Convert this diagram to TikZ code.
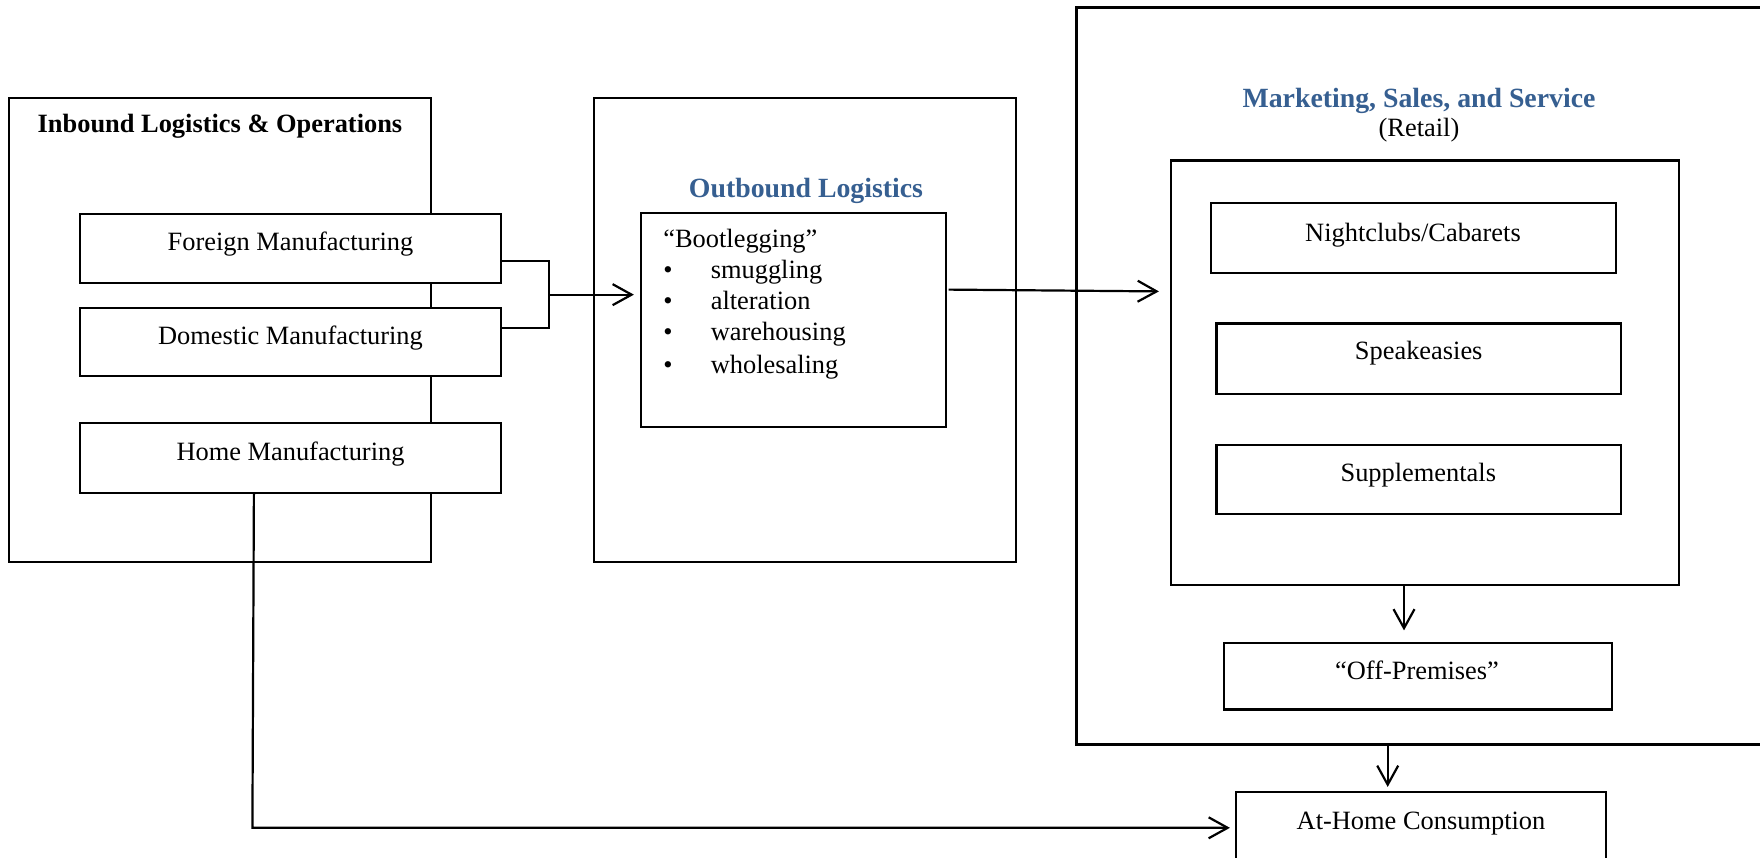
\documentclass[tikz,border=0pt]{standalone}
\usepackage{fontspec}
\setmainfont{Liberation Serif}
\usetikzlibrary{arrows.meta,calc,fit}
\definecolor{headblue}{HTML}{365F91}
\begin{document}
\begin{tikzpicture}[x=0.5pt,y=-0.5pt,
  box/.style={draw,line width=1.1pt,fill=white,inner sep=0pt},
  body/.style={font=\fontsize{13.2pt}{15.8pt}\selectfont,inner sep=0pt,anchor=base},
  bodyl/.style={body,anchor=base west},
  headb/.style={font=\fontsize{13.2pt}{15.8pt}\selectfont\bfseries,inner sep=0pt,anchor=base},
  headc/.style={font=\fontsize{13.9pt}{16.5pt}\selectfont\bfseries,text=headblue,inner sep=0pt,anchor=base},
  conn/.style={line width=1.1pt},
  arr/.style={conn,-{Straight Barb[length=9.5pt,width=10.5pt,line width=1.1pt]}}
]
\clip (0,0) rectangle (1760,857);
\fill[white] (0,0) rectangle (1760,857);

% ---------- Inbound Logistics & Operations ----------
\node[box,fit={(9,98)(431,562)}] (inb) {};
\node[headb] (inbT) at (220,132) {Inbound Logistics \& Operations};
\node[box,fit={(80,214)(501,283)}] (foreign) {};
\node[body] (foreignT) at (290.5,250.5) {Foreign Manufacturing};
\node[box,fit={(80,308)(501,376)}] (domestic) {};
\node[body] (domesticT) at (290.5,344) {Domestic Manufacturing};
\node[box,fit={(80,423)(501,493)}] (home) {};
\node[body] (homeT) at (290.5,460.5) {Home Manufacturing};

% ---------- Outbound Logistics ----------
\node[box,fit={(594,98)(1016,562)}] (outb) {};
\node[headc] (outbT) at (806,197.5) {Outbound Logistics};
\node[box,fit={(641,213)(946,427)}] (boot) {};
\node[bodyl] (bl0) at (663,247.5) {``Bootlegging''};
\node[bodyl] (bl1) at (663,278) {\makebox[23.7pt][l]{\textbullet}smuggling};
\node[bodyl] (bl2) at (663,309.5) {\makebox[23.7pt][l]{\textbullet}alteration};
\node[bodyl] (bl3) at (663,340.5) {\makebox[23.7pt][l]{\textbullet}warehousing};
\node[bodyl] (bl4) at (663,373) {\makebox[23.7pt][l]{\textbullet}wholesaling};

% ---------- Marketing, Sales, and Service ----------
\node[box,fit={(1076.5,7.5)(1800,744.5)}] (mkt) {};
\node[headc] (mktT) at (1419,107.5) {Marketing, Sales, and Service};
\node[body] (mktR) at (1419,136.5) {(Retail)};
\node[box,fit={(1171,160.5)(1679,584.7)}] (retail) {};
\node[box,fit={(1211,203)(1616,273)}] (night) {};
\node[body] (nightT) at (1413,241) {Nightclubs/Cabarets};
\node[box,fit={(1216.5,323.5)(1621,394)}] (speak) {};
\node[body] (speakT) at (1418.7,359) {Speakeasies};
\node[box,fit={(1216.5,445)(1621,513.7)}] (supp) {};
\node[body] (suppT) at (1418.3,481) {Supplementals};
\node[box,fit={(1224,643)(1612,709.5)}] (offp) {};
\node[body] (offpT) at (1417,679) {``Off-Premises''};

% ---------- At-Home Consumption ----------
\node[box,fit={(1236,791.6)(1606,864)}] (athome) {};
\node[body] (athomeT) at (1421,829) {At-Home Consumption};

% ---------- connectors ----------
\draw[conn] ($(foreign.south east)+(0,-23)$) -- ++(47,0) coordinate (b1)
  -- ($(domestic.north east)+(47,21.3)$) coordinate (b2)
  -- ($(domestic.north east)+(0,21.3)$);
\coordinate (bm) at ($(b1)!0.5!(b2)$);
\draw[arr] (bm) -- ([xshift=-3pt]bm -| boot.west);

\draw[arr] ($(boot.north east)+(1.5,77.7)$) -- ($(retail.north west)+(-11,132)$);

\coordinate (r1) at ($(retail.south)+(-21,0)$);
\draw[arr] (r1) -- ($(r1 |- offp.north)+(0,-11.5)$);

\coordinate (a1) at ($(athome.north)+(-33.3,-3.6)$);
\draw[arr] (a1 |- mkt.south) -- (a1);

\coordinate (h1) at ($(home.south west)+(175,0)$);
\draw[arr] (h1) -- ($(h1 |- athome.west)+(-1.5,0)$) -- ([xshift=-2.5pt]athome.west);
\end{tikzpicture}
\end{document}
